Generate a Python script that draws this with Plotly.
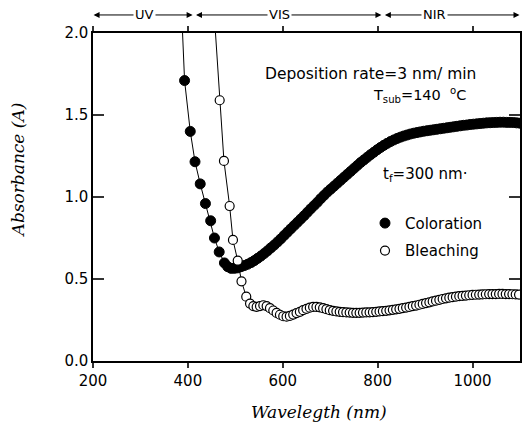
import plotly.graph_objects as go

# ---------------- data ----------------
# Coloration (filled circles): sparse points on the absorption edge
COL_EDGE_WL = [393, 405, 415, 426, 437, 448, 456, 466, 477]
COL_EDGE_ABS = [1.71, 1.40, 1.215, 1.08, 0.96, 0.855, 0.75, 0.665, 0.598]
# Coloration: dense part of the spectrum
COL_WL = [484, 491, 498, 505, 512, 519, 526, 533, 540, 547, 554, 561, 568, 575,
          582, 589, 596, 603, 610, 617, 624, 631, 638, 645, 652, 659, 666, 673,
          680, 687, 694, 701, 708, 715, 722, 729, 736, 743, 750, 757, 764, 771,
          778, 785, 792, 799, 806, 813, 820, 827, 834, 841, 848, 855, 862, 869,
          876, 883, 890, 897, 904, 911, 918, 925, 932, 939, 946, 953, 960, 967,
          974, 981, 988, 995, 1002, 1009, 1016, 1023, 1030, 1037, 1044, 1051,
          1058, 1065, 1072, 1079, 1086, 1093, 1100]
COL_ABS = [0.575, 0.565, 0.565, 0.568, 0.575, 0.582, 0.59, 0.60, 0.612, 0.626,
           0.64, 0.656, 0.672, 0.69, 0.707, 0.726, 0.745, 0.766, 0.786, 0.806,
           0.826, 0.846, 0.866, 0.886, 0.907, 0.928, 0.948, 0.968, 0.99, 1.01,
           1.03, 1.048, 1.066, 1.084, 1.102, 1.12, 1.138, 1.156, 1.174, 1.192,
           1.21, 1.226, 1.242, 1.258, 1.273, 1.288, 1.302, 1.315, 1.327, 1.338,
           1.348, 1.357, 1.365, 1.372, 1.378, 1.384, 1.389, 1.393, 1.397, 1.401,
           1.404, 1.407, 1.41, 1.413, 1.416, 1.419, 1.422, 1.425, 1.428, 1.431,
           1.434, 1.437, 1.439, 1.442, 1.444, 1.446, 1.448, 1.45, 1.452, 1.453,
           1.454, 1.455, 1.456, 1.456, 1.455, 1.455, 1.454, 1.452, 1.45]
# guide line continues above the top of the frame
COL_TOP_WL = [388]
COL_TOP_ABS = [2.05]

# Bleaching (open circles)
BLE_EDGE_WL = [467, 476, 488, 495, 505, 513, 523]
BLE_EDGE_ABS = [1.59, 1.22, 0.945, 0.738, 0.612, 0.486, 0.392]
BLE_WL = [531, 538, 545, 552, 559, 566, 573, 580, 587, 594, 601, 608, 615, 622,
          629, 636, 643, 650, 657, 664, 671, 678, 685, 692, 699, 706, 713, 720,
          727, 734, 741, 748, 755, 762, 769, 776, 783, 790, 797, 804, 811, 818,
          825, 832, 839, 846, 853, 860, 867, 874, 881, 888, 895, 902, 909, 916,
          923, 930, 937, 944, 951, 958, 965, 972, 979, 986, 993, 1000, 1007,
          1014, 1021, 1028, 1035, 1042, 1049, 1056, 1063, 1070, 1077, 1084,
          1091, 1098]
BLE_ABS = [0.35, 0.335, 0.33, 0.335, 0.34, 0.335, 0.322, 0.308, 0.293, 0.282,
           0.273, 0.27, 0.275, 0.283, 0.292, 0.30, 0.31, 0.318, 0.325, 0.33,
           0.33, 0.327, 0.322, 0.316, 0.31, 0.306, 0.302, 0.30, 0.298, 0.296,
           0.295, 0.294, 0.294, 0.294, 0.295, 0.296, 0.297, 0.298, 0.30, 0.302,
           0.304, 0.306, 0.309, 0.312, 0.315, 0.318, 0.322, 0.326, 0.33, 0.334,
           0.338, 0.343, 0.348, 0.353, 0.358, 0.363, 0.368, 0.373, 0.378, 0.382,
           0.386, 0.389, 0.392, 0.395, 0.397, 0.399, 0.401, 0.403, 0.404, 0.405,
           0.406, 0.407, 0.408, 0.408, 0.408, 0.409, 0.409, 0.408, 0.408, 0.407,
           0.406, 0.405]
BLE_TOP_WL = [457]
BLE_TOP_ABS = [2.05]

# spectral regions: (label, start nm, end nm, label centre nm)
REGIONS = [("UV", 198, 410, 309), ("VIS", 414, 808, 593), ("NIR", 812, 1099, 919)]

SANS = "DejaVu Sans"
SERIF = "DejaVu Serif"
TICK_COLOR = "#333333"

fig = go.Figure()

# connecting lines
fig.add_trace(go.Scatter(
    x=COL_TOP_WL + COL_EDGE_WL + COL_WL, y=COL_TOP_ABS + COL_EDGE_ABS + COL_ABS,
    mode="lines", line=dict(color="black", width=1), showlegend=False,
    hoverinfo="skip"))
fig.add_trace(go.Scatter(
    x=BLE_TOP_WL + BLE_EDGE_WL + BLE_WL, y=BLE_TOP_ABS + BLE_EDGE_ABS + BLE_ABS,
    mode="lines", line=dict(color="black", width=1), showlegend=False,
    hoverinfo="skip"))

# markers
fig.add_trace(go.Scatter(
    x=COL_EDGE_WL + COL_WL, y=COL_EDGE_ABS + COL_ABS, mode="markers",
    name="Coloration", legendgroup="c",
    marker=dict(symbol="circle", size=10, color="black",
                line=dict(color="black", width=1))))
fig.add_trace(go.Scatter(
    x=BLE_EDGE_WL + BLE_WL, y=BLE_EDGE_ABS + BLE_ABS, mode="markers",
    name="Bleaching", legendgroup="b",
    marker=dict(symbol="circle", size=9, color="white",
                line=dict(color="black", width=1.2))))

annotations = []
# region arrows and labels above the frame
for label, x0, x1, xc in REGIONS:
    annotations.append(dict(
        x=x1, y=1.055, xref="x", yref="paper", ax=x0, ay=0, axref="x",
        ayref="pixel", text="", showarrow=True, arrowside="end+start",
        arrowhead=2, arrowsize=1.2, arrowwidth=1, arrowcolor="black"))
for label, x0, x1, xc in REGIONS:
    annotations.append(dict(
        x=xc, y=1.055, xref="x", yref="paper", text=label, showarrow=False,
        bgcolor="white", borderpad=1, xanchor="center", yanchor="middle",
        font=dict(family=SANS, size=13, color="black")))

# in-plot texts
annotations.append(dict(
    x=785, y=1.75, xref="x", yref="y", text="Deposition rate=3 nm/ min",
    showarrow=False, xanchor="center", yanchor="middle",
    font=dict(family=SANS, size=15.5, color="black")))
annotations.append(dict(
    x=785, y=1.62, xref="x", yref="y",
    text="T<sub>sub</sub>=140  <sup>o</sup>C",
    showarrow=False, xanchor="left", yanchor="middle",
    font=dict(family=SANS, size=14.5, color="black")))
annotations.append(dict(
    x=806, y=1.135, xref="x", yref="y", text="t<sub>f</sub>=300 nm·",
    showarrow=False, xanchor="left", yanchor="middle",
    font=dict(family=SANS, size=15, color="black")))

# axis titles
annotations.append(dict(
    x=0.529, y=-0.155, xref="paper", yref="paper",
    text="<i>Wavelegth (nm)</i>", showarrow=False,
    xanchor="center", yanchor="middle",
    font=dict(family=SERIF, size=17, color="black")))
annotations.append(dict(
    x=-0.175, y=0.582, xref="paper", yref="paper",
    text="<i>Absorbance (A)</i>", showarrow=False, textangle=-90,
    xanchor="center", yanchor="middle",
    font=dict(family=SERIF, size=17, color="black")))

fig.update_layout(
    width=528, height=425, autosize=False,
    margin=dict(l=93, r=6, t=33, b=64),
    paper_bgcolor="white", plot_bgcolor="white",
    legend=dict(x=0.637, y=0.47, xanchor="left", yanchor="top",
                bgcolor="rgba(0,0,0,0)", borderwidth=0, tracegroupgap=5,
                font=dict(family=SANS, size=15, color="black")),
    annotations=annotations,
    showlegend=True,
)
fig.update_xaxes(
    range=[200, 1100], tickmode="linear", tick0=200, dtick=200,
    showline=True, linecolor="black", linewidth=1.5, mirror="allticks",
    ticks="outside", ticklen=5, tickwidth=2, tickcolor=TICK_COLOR,
    showgrid=False, zeroline=False,
    tickfont=dict(family=SANS, size=15, color="black"))
fig.update_yaxes(
    range=[0, 2], tickmode="linear", tick0=0, dtick=0.5, tickformat=".1f",
    showline=True, linecolor="black", linewidth=1.5, mirror="allticks",
    ticks="inside", ticklen=11, tickwidth=2, tickcolor=TICK_COLOR,
    showgrid=False, zeroline=False,
    tickfont=dict(family=SANS, size=15, color="black"))

fig.write_html("out.html")
